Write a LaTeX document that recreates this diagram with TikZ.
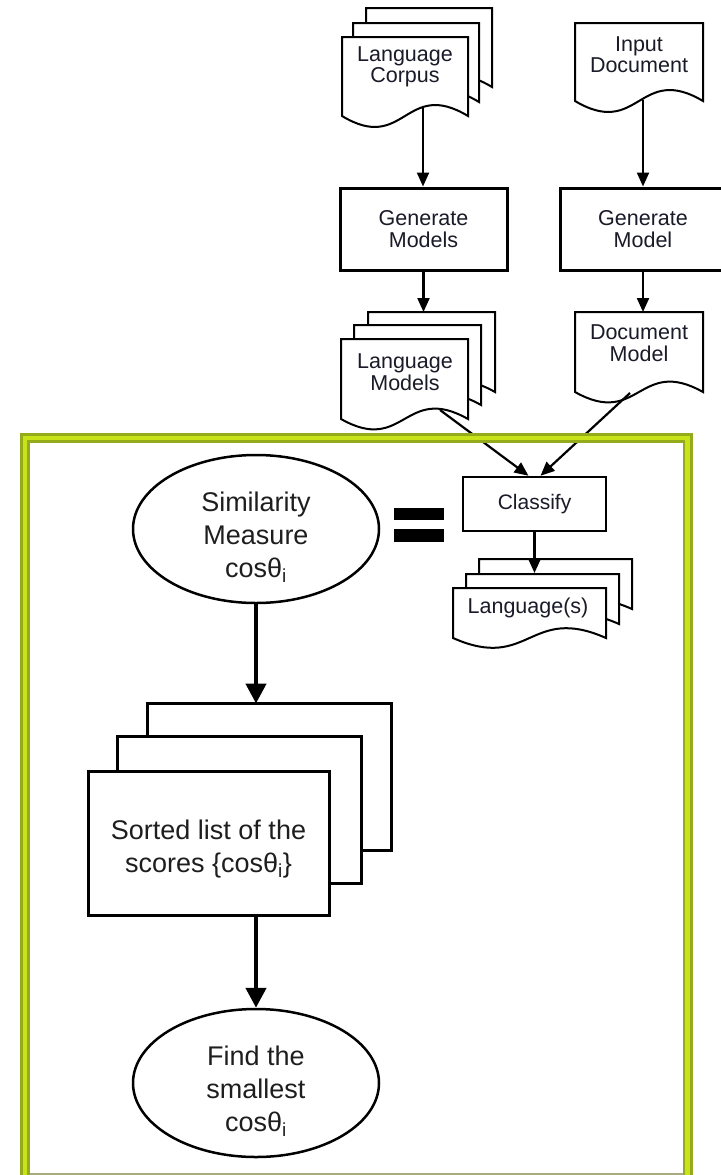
\documentclass[tikz,border=0pt]{standalone}
\usepackage{fontspec}
\setmainfont{Liberation Sans}
\usetikzlibrary{arrows.meta,calc,shapes.geometric}
\pgfdeclarelayer{sheets}
\pgfsetlayers{sheets,main}

\definecolor{inkTop}{HTML}{1A1A28}
\definecolor{inkBot}{HTML}{1E1E1E}
\definecolor{frameDark}{HTML}{94AC1C}
\definecolor{frameLight}{HTML}{C8E31A}
\definecolor{frameBase}{HTML}{A9AC80}

% Document symbol with a wavy lower edge, placed around a text node.
% #1 node, #2 width, #3 height above node, #4 depth below node,
% #5 wave control offset, #6/#7 shift of this sheet.
\newcommand\docsheet[7]{%
  \draw[sheetline]
    ($(#1)+(#6,#7)+(-#2/2,-#3)$) -- ($(#1)+(#6,#7)+(#2/2,-#3)$)
    -- ($(#1)+(#6,#7)+(#2/2,#4)$)
    .. controls ($(#1)+(#6,#7)+(0,#4-#5)$) and ($(#1)+(#6,#7)+(0,#4+#5)$)
    .. ($(#1)+(#6,#7)+(-#2/2,#4)$) -- cycle;}

\tikzset{
  sheetline/.style={draw=black, line width=2pt, fill=white, line join=miter},
  doctext/.style={align=center, inner sep=0pt, text=inkTop,
    font=\fontsize{21.5}{21.5}\selectfont},
  procbox/.style={draw=black, line width=3pt, fill=white, align=center,
    inner sep=0pt, minimum width=167pt, minimum height=82pt, text=inkTop,
    font=\fontsize{21.5}{21.5}\selectfont},
  flow/.style={line width=2.2pt, -{Triangle[length=14pt, width=12pt]}},
  bigflow/.style={line width=4.5pt, -{Triangle[length=20pt, width=20pt]}},
  oval/.style={ellipse, draw=black, line width=2.5pt, inner sep=0pt,
    minimum width=246pt, minimum height=148pt},
  bigtext/.style={align=center, inner sep=0pt, text=inkBot,
    font=\fontsize{27}{33}\selectfont},
  stackline/.style={draw=black, line width=3pt, fill=white}
}

\begin{document}
\begin{tikzpicture}[x=1pt, y=-1pt]
\useasboundingbox (0,0) rectangle (720,1175);

% ---------- upper flow chart ----------
\node[doctext] (lc) at (405,67) {Language\\Corpus};
\node[doctext] (id) at (639,54.5) {Input\\Document};
\node[procbox] (gm) at (423.5,229) {Generate\\Models};
\node[procbox, minimum width=166pt] (gd) at (643,229) {Generate\\Model};
\node[doctext] (lm) at (405,372) {Language\\Models};
\node[doctext] (dm) at (639,343) {Document\\Model};
\node[procbox, line width=2.5pt, minimum width=143pt, minimum height=54pt,
      font=\fontsize{21}{21}\selectfont] (cl) at (534.5,504) {Classify};
\node[doctext] (ls) at (528,608) {Language(s)};

\begin{pgfonlayer}{sheets}
  \docsheet{lc}{126}{30}{49}{38}{24}{-29}
  \docsheet{lc}{126}{30}{49}{38}{11}{-14}
  \docsheet{lc}{126}{30}{49}{38}{0}{0}
  \docsheet{id}{128}{31.5}{46.5}{38}{0}{0}
  \docsheet{lm}{127}{33}{47}{36}{26.5}{-27}
  \docsheet{lm}{127}{33}{47}{36}{12.5}{-14}
  \docsheet{lm}{127}{33}{47}{36}{-0.5}{0}
  \docsheet{dm}{128}{31}{49}{36}{0}{0}
  \docsheet{ls}{153}{20}{30}{34}{27.5}{-29}
  \docsheet{ls}{153}{20}{30}{34}{14.5}{-14}
  \docsheet{ls}{153}{20}{30}{34}{1.5}{0}
\end{pgfonlayer}

\coordinate (lc-out) at ($(lc)+(18,41)$);
\coordinate (id-out) at ($(id)+(4,45)$);
\coordinate (lm-in)  at ($(lm)+(18,-60)$);
\coordinate (dm-in)  at ($(dm)+(4,-31)$);
\coordinate (lm-out) at ($(lm)+(35,38)$);
\coordinate (dm-out) at ($(dm)+(-9,50)$);
\coordinate (cl-inl) at ($(cl.north)+(-6,0)$);
\coordinate (cl-inr) at ($(cl.north)+(6,0)$);
\coordinate (ls-in)  at ($(ls)+(7,-35)$);

\draw[flow] (lc-out) -- (lc-out |- gm.north);
\draw[flow] (id-out) -- (id-out |- gd.north);
\draw[flow] (gm.south) -- (gm.south |- lm-in);
\draw[flow] (gd.south) -- (gd.south |- dm-in);
\draw[flow] (lm-out) -- (cl-inl);
\draw[flow] (dm-out) -- (cl-inr);
\draw[flow] (cl.south) -- (cl.south |- ls-in);

% ---------- lower detail ----------
\node[oval] (sim) at (256,529) {};
\node[bigtext] (sim-t) at ([yshift=-8.5pt]sim.center)
  {Similarity\\Measure\\cosθ\textsubscript{i}};

\fill[black] (394,508) rectangle (444,520);
\fill[black] (394,529) rectangle (444,542);

\node[stackline, minimum width=241pt, minimum height=144pt, inner sep=0pt]
  (st) at (208.5,843) {};
\node[bigtext] (st-t) at ([yshift=-6pt]st.center)
  {Sorted list of the\\scores \{cosθ\textsubscript{i}\}};
\begin{pgfonlayer}{sheets}
  \draw[stackline] ($(st.north west)+(61,-66)$) rectangle ($(st.south east)+(61,-66)$);
  \draw[stackline] ($(st.north west)+(31,-33)$) rectangle ($(st.south east)+(31,-33)$);
\end{pgfonlayer}

\node[oval] (fs) at (256,1083) {};
\node[bigtext] (fs-t) at ([yshift=-8pt]fs.center)
  {Find the\\smallest\\cosθ\textsubscript{i}};

\coordinate (st-in)  at ($(st.north)+(47.5,-66)$);
\coordinate (st-out) at ($(st.south)+(47.5,0)$);
\draw[bigflow] (sim.south) -- (sim.south |- st-in);
\draw[bigflow] (st-out) -- (st-out |- fs.north);

% ---------- green frame ----------
\draw[line width=10pt, frameDark, line join=miter]
  (25,1185) -- (25,438) -- (687.5,438) -- (687.5,1185);
\draw[line width=4.5pt, frameLight, line join=miter]
  (25,1185) -- (25,438) -- (687.5,438) -- (687.5,1185);
\draw[line width=1.8pt, frameBase] (30,1174) -- (683,1174);
\end{tikzpicture}
\end{document}
